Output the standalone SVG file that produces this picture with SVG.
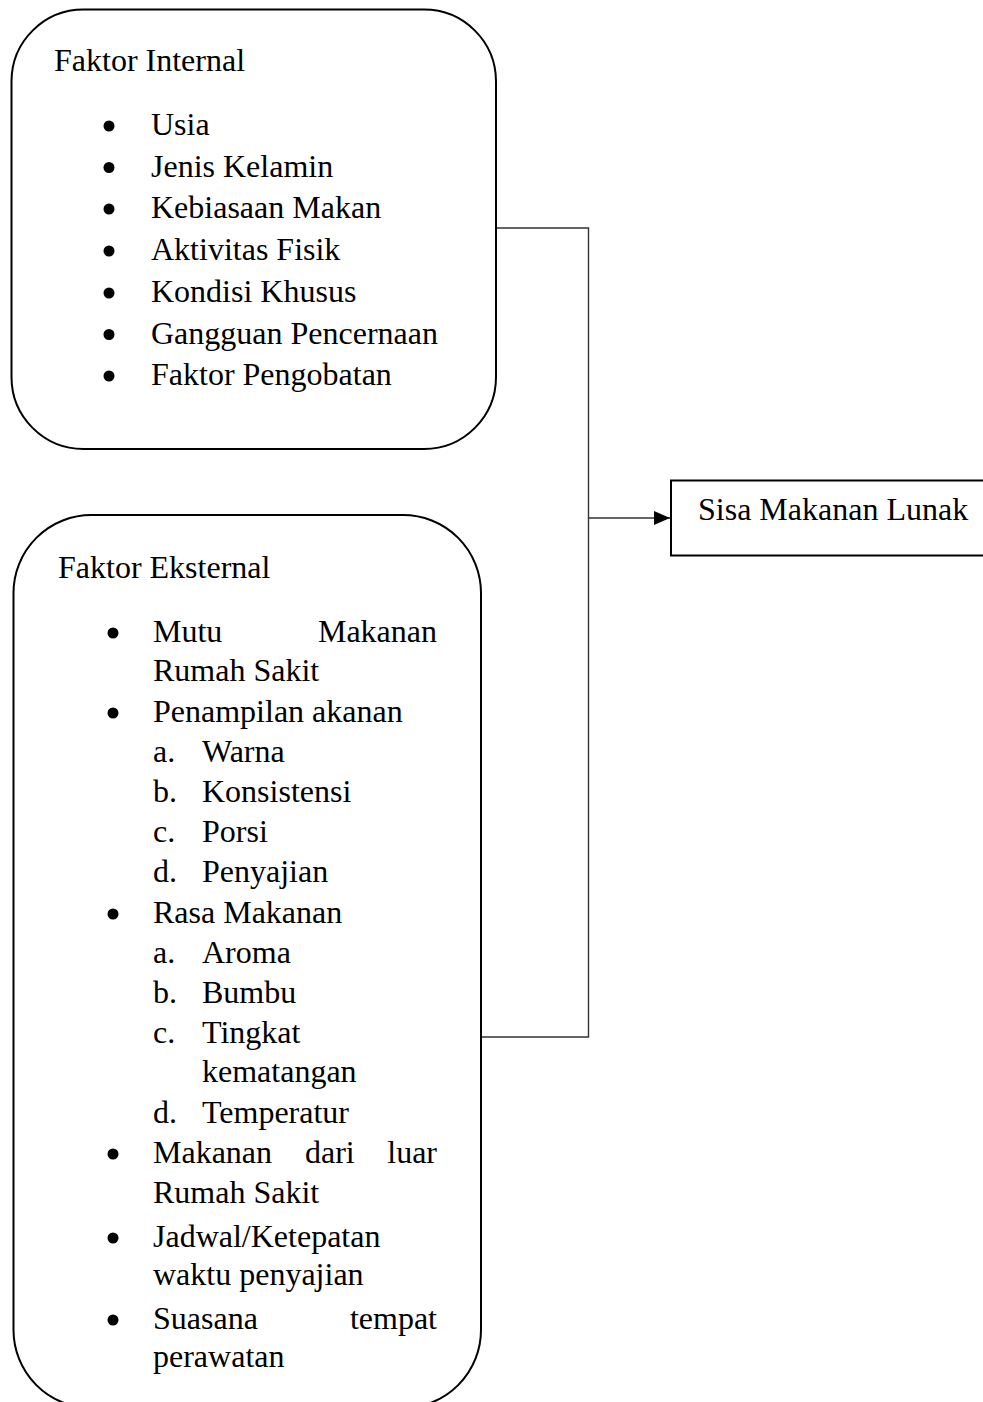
<svg xmlns="http://www.w3.org/2000/svg" width="983" height="1402" viewBox="0 0 983 1402">
<style>
  text { font-family: "Liberation Serif", "Times New Roman", serif; font-size: 32px; fill: #000; }
  .box { fill: #fff; stroke: #000; stroke-width: 2; }
  .conn { fill: none; stroke: #333; stroke-width: 1.4; }
  .dot { fill: #000; }
  .r { text-anchor: end; }
</style>
<defs>
  <marker id="arrow" markerWidth="16" markerHeight="14" refX="16" refY="7" orient="auto" markerUnits="userSpaceOnUse">
    <path d="M0,0 L16,7 L0,14 Z" fill="#000"/>
  </marker>
</defs>
<rect width="983" height="1402" fill="#fff"/>

<g id="connectors">
  <path class="conn" d="M496,228 H588.5 V1037 H481"/>
  <path class="conn" d="M588.5,518 H670" marker-end="url(#arrow)"/>
</g>

<g id="faktor-internal">
  <rect class="box" x="11.5" y="9.5" width="484.5" height="439.5" rx="72" ry="72"/>
  <text x="54" y="71">Faktor Internal</text>
  <circle class="dot" cx="109" cy="126" r="5.5"/>
  <text x="151" y="135">Usia</text>
  <circle class="dot" cx="109" cy="167.5" r="5.5"/>
  <text x="151" y="176.5">Jenis Kelamin</text>
  <circle class="dot" cx="109" cy="209" r="5.5"/>
  <text x="151" y="218">Kebiasaan Makan</text>
  <circle class="dot" cx="109" cy="251" r="5.5"/>
  <text x="151" y="260">Aktivitas Fisik</text>
  <circle class="dot" cx="109" cy="293" r="5.5"/>
  <text x="151" y="302">Kondisi Khusus</text>
  <circle class="dot" cx="109" cy="334.5" r="5.5"/>
  <text x="151" y="343.5">Gangguan Pencernaan</text>
  <circle class="dot" cx="109" cy="376" r="5.5"/>
  <text x="151" y="385">Faktor Pengobatan</text>
</g>

<g id="faktor-eksternal">
  <rect class="box" x="13.5" y="515" width="467.5" height="893" rx="78" ry="78"/>
  <text x="58" y="578">Faktor Eksternal</text>
  <circle class="dot" cx="113" cy="633" r="5.5"/>
  <text x="153" y="642">Mutu</text>
  <text class="r" x="437" y="642">Makanan</text>
  <text x="153" y="681">Rumah Sakit</text>
  <circle class="dot" cx="113" cy="713" r="5.5"/>
  <text x="153" y="722">Penampilan akanan</text>
  <text x="153" y="762">a.</text><text x="202" y="762">Warna</text>
  <text x="153" y="802">b.</text><text x="202" y="802">Konsistensi</text>
  <text x="153" y="842">c.</text><text x="202" y="842">Porsi</text>
  <text x="153" y="882">d.</text><text x="202" y="882">Penyajian</text>
  <circle class="dot" cx="113" cy="914" r="5.5"/>
  <text x="153" y="923">Rasa Makanan</text>
  <text x="153" y="963">a.</text><text x="202" y="963">Aroma</text>
  <text x="153" y="1003">b.</text><text x="202" y="1003">Bumbu</text>
  <text x="153" y="1043">c.</text><text x="202" y="1043">Tingkat</text>
  <text x="202" y="1082">kematangan</text>
  <text x="153" y="1123">d.</text><text x="202" y="1123">Temperatur</text>
  <circle class="dot" cx="113" cy="1154" r="5.5"/>
  <text x="153" y="1163">Makanan</text>
  <text x="305" y="1163">dari</text>
  <text class="r" x="437" y="1163">luar</text>
  <text x="153" y="1203">Rumah Sakit</text>
  <circle class="dot" cx="113" cy="1238" r="5.5"/>
  <text x="153" y="1247">Jadwal/Ketepatan</text>
  <text x="153" y="1285">waktu penyajian</text>
  <circle class="dot" cx="113" cy="1320" r="5.5"/>
  <text x="153" y="1329">Suasana</text>
  <text class="r" x="437" y="1329">tempat</text>
  <text x="153" y="1367">perawatan</text>
</g>

<g id="sisa-makanan-lunak">
  <rect class="box" x="671" y="480.5" width="330" height="75"/>
  <text x="698" y="520">Sisa Makanan Lunak</text>
</g>
</svg>
